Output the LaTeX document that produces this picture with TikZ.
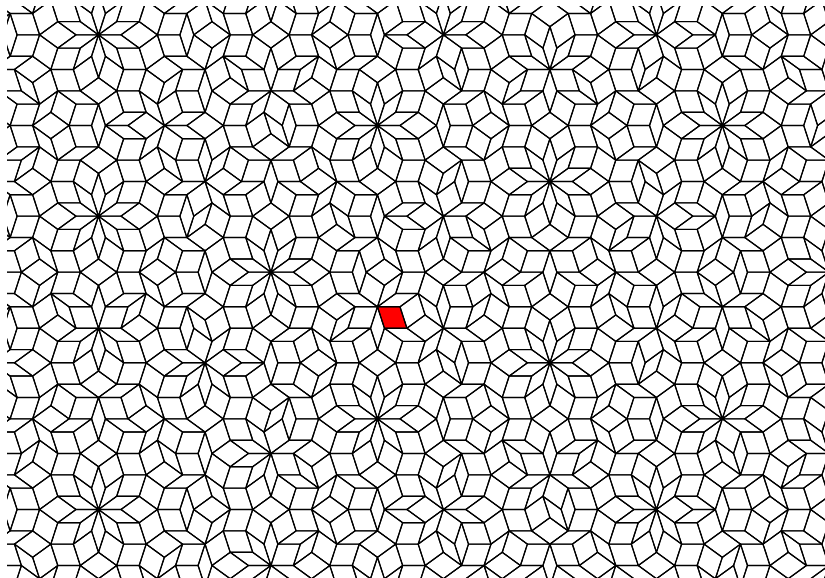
\documentclass[tikz,border=0pt]{standalone}
\ExplSyntaxOn
\int_const:Nn \c_pen_S_int {1000000}
\int_const:Nn \c_pen_N_int {15}
\int_const:Nn \c_pen_Lsp_int {1474560}
\int_const:Nn \c_pen_Xz_int {27033600}
\int_const:Nn \c_pen_Yz_int {18939904}
\int_const:Nn \c_pen_Tx_int {25703219}
\int_const:Nn \c_pen_Ty_int {17072128}
\clist_map_inline:nn { r, s, kr, ks, erx, ery, esx, esy, gr, gs, det, ar, as, px, py, bx, by, K, v, cx, cy, xo, yo, ux, uy, vx, vy, csx, csy, d }
  { \int_new:c { l_pen_#1_int } }
\int_new:N \g_pen_bestd_int
\int_gset:Nn \g_pen_bestd_int {2000000000}
\int_new:N \g_pen_shx_int
\int_new:N \g_pen_shy_int
\tl_new:N \g_pen_best_tl
\bool_new:N \l_pen_draw_bool
\int_step_inline:nnn {0}{4}
  {
    \int_new:c {g_pen_ex_#1_int}
    \int_new:c {g_pen_ey_#1_int}
    \int_new:c {g_pen_g_#1_int}
  }
\cs_new_protected:Npn \pen_setdir:nnnn #1#2#3#4
  {
    \int_gset:cn {g_pen_ex_#1_int} {#2}
    \int_gset:cn {g_pen_ey_#1_int} {#3}
    \int_gset:cn {g_pen_g_#1_int} {#4}
  }
\pen_setdir:nnnn {0}{1000000}{0}{137000}
\pen_setdir:nnnn {1}{309017}{951057}{241000}
\pen_setdir:nnnn {2}{-809017}{587785}{389000}
\pen_setdir:nnnn {3}{-809017}{-587785}{452000}
\pen_setdir:nnnn {4}{309017}{-951057}{281000}

\cs_new_protected:Npn \pen_run:
  {
    \int_step_inline:nnn {0}{3}
      {
        \int_set:Nn \l_pen_r_int {##1}
        \int_step_inline:nnn {##1+1}{4}
          {
            \int_set:Nn \l_pen_s_int {####1}
            \pen_pair:
          }
      }
  }

\cs_new_protected:Npn \pen_pair:
  {
    \int_set_eq:Nc \l_pen_erx_int {g_pen_ex_ \int_use:N \l_pen_r_int _int}
    \int_set_eq:Nc \l_pen_ery_int {g_pen_ey_ \int_use:N \l_pen_r_int _int}
    \int_set_eq:Nc \l_pen_esx_int {g_pen_ex_ \int_use:N \l_pen_s_int _int}
    \int_set_eq:Nc \l_pen_esy_int {g_pen_ey_ \int_use:N \l_pen_s_int _int}
    \int_set_eq:Nc \l_pen_gr_int {g_pen_g_ \int_use:N \l_pen_r_int _int}
    \int_set_eq:Nc \l_pen_gs_int {g_pen_g_ \int_use:N \l_pen_s_int _int}
    \int_set:Nn \l_pen_det_int
      { \l_pen_erx_int * \l_pen_esy_int / \c_pen_S_int - \l_pen_ery_int * \l_pen_esx_int / \c_pen_S_int }
    \int_set:Nn \l_pen_ux_int { \l_pen_erx_int * \c_pen_Lsp_int / \c_pen_S_int }
    \int_set:Nn \l_pen_uy_int { \l_pen_ery_int * \c_pen_Lsp_int / \c_pen_S_int }
    \int_set:Nn \l_pen_vx_int { \l_pen_esx_int * \c_pen_Lsp_int / \c_pen_S_int }
    \int_set:Nn \l_pen_vy_int { \l_pen_esy_int * \c_pen_Lsp_int / \c_pen_S_int }
    \int_step_inline:nnn { - \c_pen_N_int } { \c_pen_N_int }
      {
        \int_set:Nn \l_pen_kr_int {##1}
        \int_set:Nn \l_pen_ar_int { \l_pen_kr_int * \c_pen_S_int - \l_pen_gr_int }
        \int_step_inline:nnn { - \c_pen_N_int } { \c_pen_N_int }
          {
            \int_set:Nn \l_pen_ks_int {####1}
            \pen_point:
          }
      }
  }

\cs_new_protected:Npn \pen_point:
  {
    \int_set:Nn \l_pen_as_int { \l_pen_ks_int * \c_pen_S_int - \l_pen_gs_int }
    \int_set:Nn \l_pen_px_int
      { \l_pen_ar_int * \l_pen_esy_int / \l_pen_det_int - \l_pen_as_int * \l_pen_ery_int / \l_pen_det_int }
    \int_set:Nn \l_pen_py_int
      { \l_pen_as_int * \l_pen_erx_int / \l_pen_det_int - \l_pen_ar_int * \l_pen_esx_int / \l_pen_det_int }
    \bool_lazy_and:nnT
      { \int_compare_p:nNn { \int_abs:n { \l_pen_px_int } } < { 11000000 } }
      { \int_compare_p:nNn { \int_abs:n { \l_pen_py_int } } < { 8900000 } }
      { \pen_tile: }
  }

\cs_new_protected:Npn \pen_addk:n #1
  {
    \int_compare:nNnTF {#1} = { \l_pen_r_int }
      { \int_set_eq:NN \l_pen_K_int \l_pen_kr_int }
      {
        \int_compare:nNnTF {#1} = { \l_pen_s_int }
          { \int_set_eq:NN \l_pen_K_int \l_pen_ks_int }
          {
            \int_set:Nn \l_pen_v_int
              {
                \l_pen_px_int * \use:c {g_pen_ex_#1_int} / \c_pen_S_int
                + \l_pen_py_int * \use:c {g_pen_ey_#1_int} / \c_pen_S_int
                + \use:c {g_pen_g_#1_int}
              }
            \int_set:Nn \l_pen_K_int { \int_div_truncate:nn { \l_pen_v_int } { \c_pen_S_int } }
            \int_compare:nNnT { \l_pen_v_int } > { \l_pen_K_int * \c_pen_S_int }
              { \int_incr:N \l_pen_K_int }
          }
      }
    \int_add:Nn \l_pen_bx_int { \l_pen_K_int * \use:c {g_pen_ex_#1_int} }
    \int_add:Nn \l_pen_by_int { \l_pen_K_int * \use:c {g_pen_ey_#1_int} }
  }

\cs_new_protected:Npn \pen_path:
  {
    \pgfpathmoveto { \pgfqpoint { \int_use:N \l_pen_xo_int sp } { \int_use:N \l_pen_yo_int sp } }
    \pgfpathlineto { \pgfqpoint
      { \int_eval:n { \l_pen_xo_int + \l_pen_ux_int } sp }
      { \int_eval:n { \l_pen_yo_int + \l_pen_uy_int } sp } }
    \pgfpathlineto { \pgfqpoint
      { \int_eval:n { \l_pen_xo_int + \l_pen_ux_int + \l_pen_vx_int } sp }
      { \int_eval:n { \l_pen_yo_int + \l_pen_uy_int + \l_pen_vy_int } sp } }
    \pgfpathlineto { \pgfqpoint
      { \int_eval:n { \l_pen_xo_int + \l_pen_vx_int } sp }
      { \int_eval:n { \l_pen_yo_int + \l_pen_vy_int } sp } }
    \pgfpathclose
  }

\cs_new_protected:Npn \pen_fillpoly:nnnnnnnn #1#2#3#4#5#6#7#8
  {
    \pgfpathmoveto { \pgfqpoint {#1sp} {#2sp} }
    \pgfpathlineto { \pgfqpoint {#3sp} {#4sp} }
    \pgfpathlineto { \pgfqpoint {#5sp} {#6sp} }
    \pgfpathlineto { \pgfqpoint {#7sp} {#8sp} }
    \pgfpathclose
    \pgfusepath { fill }
  }

\cs_new_protected:Npn \pen_checkbest:
  {
    \int_set:Nn \l_pen_csx_int { \l_pen_cx_int * \c_pen_Lsp_int / \c_pen_S_int }
    \int_set:Nn \l_pen_csy_int { \l_pen_cy_int * \c_pen_Lsp_int / \c_pen_S_int }
    \int_set:Nn \l_pen_d_int
      {
        \int_abs:n { \c_pen_Xz_int + \l_pen_csx_int - \c_pen_Tx_int }
        + \int_abs:n { \c_pen_Yz_int + \l_pen_csy_int - \c_pen_Ty_int }
      }
    \int_compare:nNnT { \l_pen_d_int } < { \g_pen_bestd_int }
      {
        \int_gset_eq:NN \g_pen_bestd_int \l_pen_d_int
        \int_gset:Nn \g_pen_shx_int { \c_pen_Tx_int - \l_pen_csx_int }
        \int_gset:Nn \g_pen_shy_int { \c_pen_Ty_int - \l_pen_csy_int }
        \tl_gset:Nx \g_pen_best_tl
          {
            \exp_not:N \pen_fillpoly:nnnnnnnn
              { \int_use:N \l_pen_xo_int }
              { \int_use:N \l_pen_yo_int }
              { \int_eval:n { \l_pen_xo_int + \l_pen_ux_int } }
              { \int_eval:n { \l_pen_yo_int + \l_pen_uy_int } }
              { \int_eval:n { \l_pen_xo_int + \l_pen_ux_int + \l_pen_vx_int } }
              { \int_eval:n { \l_pen_yo_int + \l_pen_uy_int + \l_pen_vy_int } }
              { \int_eval:n { \l_pen_xo_int + \l_pen_vx_int } }
              { \int_eval:n { \l_pen_yo_int + \l_pen_vy_int } }
          }
      }
  }

\cs_new_protected:Npn \pen_tile:
  {
    \int_zero:N \l_pen_bx_int
    \int_zero:N \l_pen_by_int
    \int_step_function:nnN {0}{4} \pen_addk:n
    \int_set:Nn \l_pen_cx_int { \l_pen_bx_int + ( \l_pen_erx_int + \l_pen_esx_int ) / 2 }
    \int_set:Nn \l_pen_cy_int { \l_pen_by_int + ( \l_pen_ery_int + \l_pen_esy_int ) / 2 }
    \bool_lazy_and:nnT
      { \int_compare_p:nNn { \int_abs:n { \l_pen_cx_int } } < { 21300000 } }
      { \int_compare_p:nNn { \int_abs:n { \l_pen_cy_int } } < { 15900000 } }
      {
        \int_set:Nn \l_pen_xo_int { \l_pen_bx_int * \c_pen_Lsp_int / \c_pen_S_int }
        \int_set:Nn \l_pen_yo_int { \l_pen_by_int * \c_pen_Lsp_int / \c_pen_S_int }
        \bool_if:NTF \l_pen_draw_bool
          { \pen_path: \pgfusepath { stroke } }
          {
            \bool_lazy_and:nnT
              { \int_compare_p:nNn { \l_pen_r_int } = { 0 } }
              { \int_compare_p:nNn { \l_pen_s_int } = { 4 } }
              { \pen_checkbest: }
          }
      }
  }

\cs_new_protected:Npn \PenDraw
  {
    \pgftransformshift { \pgfqpoint { \int_use:N \g_pen_shx_int sp } { \int_use:N \g_pen_shy_int sp } }
    \pgfsetfillcolor { red }
    \tl_use:N \g_pen_best_tl
    \pgfsetlinewidth { 1.15pt }
    \pgfsetroundjoin
    \pgfsetroundcap
    \pgfsetstrokecolor { black }
    \bool_set_true:N \l_pen_draw_bool
    \pen_run:
  }

\bool_set_false:N \l_pen_draw_bool
\pen_run:
\ExplSyntaxOff

\begin{document}
\begin{tikzpicture}
  \path[use as bounding box] (0,0) rectangle (825pt,578pt);
  \fill[white] (0,0) rectangle (825pt,578pt);
  \begin{scope}
    \clip (7pt,0pt) rectangle (825pt,571pt);
    \PenDraw
  \end{scope}
\end{tikzpicture}
\end{document}
